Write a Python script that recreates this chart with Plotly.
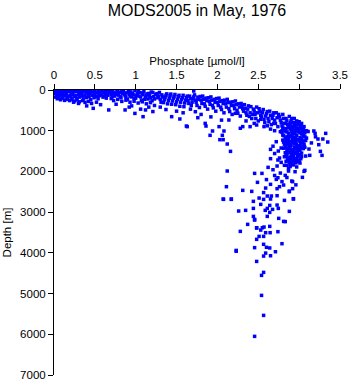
import plotly.graph_objects as go

# ---- data: [phosphate (umol/l), depth (m)] ----
surface = [
    [0.00, 5], [0.02, 20], [0.04, 8], [0.05, 35], [0.07, 15], [0.09, 50], [0.10, 5], [0.12, 28],
    [0.14, 12], [0.15, 60], [0.17, 22], [0.19, 40], [0.20, 8], [0.22, 70], [0.24, 18], [0.25, 45],
    [0.27, 10], [0.29, 32], [0.30, 55], [0.32, 15], [0.34, 75], [0.35, 25], [0.37, 48], [0.39, 10],
    [0.40, 62], [0.42, 30], [0.44, 85], [0.45, 18], [0.47, 52], [0.49, 36], [0.50, 8], [0.52, 70],
    [0.54, 26], [0.55, 95], [0.57, 45], [0.59, 15], [0.61, 65], [0.63, 30], [0.65, 100],
    [0.01, 80], [0.03, 110], [0.05, 95], [0.06, 140], [0.08, 120], [0.10, 160], [0.11, 100],
    [0.13, 135], [0.15, 115], [0.16, 180], [0.18, 150], [0.20, 125], [0.21, 195], [0.23, 105],
    [0.25, 165], [0.26, 140], [0.28, 210], [0.30, 120], [0.31, 175], [0.33, 100], [0.35, 150],
    [0.36, 220], [0.38, 130], [0.40, 185], [0.42, 110], [0.43, 160], [0.45, 240], [0.47, 135],
    [0.49, 190], [0.50, 115], [0.52, 165], [0.54, 215], [0.56, 140], [0.58, 120], [0.60, 175],
    [0.62, 150], [0.64, 200],
    [0.02, 175], [0.04, 215], [0.06, 190], [0.08, 240], [0.11, 205], [0.13, 255], [0.16, 225],
    [0.19, 260], [0.22, 235], [0.25, 270], [0.28, 245], [0.31, 290], [0.35, 260], [0.38, 305],
    [0.42, 280], [0.46, 330], [0.52, 300], [0.57, 360], [0.40, 390], [0.48, 450], [0.30, 330],
    [0.24, 300],
]

band_low = [
    [0.66, 20], [0.68, 60], [0.70, 110], [0.72, 35], [0.74, 150], [0.75, 80], [0.77, 10],
    [0.79, 125], [0.80, 55], [0.82, 190], [0.84, 90], [0.85, 30], [0.87, 140], [0.89, 70],
    [0.90, 225], [0.92, 105], [0.94, 45], [0.95, 170], [0.97, 120], [0.99, 15], [1.00, 200],
    [1.02, 85], [1.04, 150], [1.05, 60], [1.07, 250], [1.09, 115], [1.10, 30], [1.12, 180],
    [1.14, 95], [1.15, 220], [1.17, 140], [1.19, 50], [1.20, 265], [1.22, 165], [1.24, 110],
    [0.70, 210], [0.73, 260], [0.78, 230], [0.83, 280], [0.88, 250], [0.93, 300], [0.98, 275],
    [1.03, 320], [1.08, 290], [1.13, 340], [1.18, 310], [1.23, 380],
    [0.67, 490], [0.76, 350], [0.87, 490], [0.92, 420], [0.99, 575], [1.06, 470], [1.12, 490],
    [1.16, 420], [1.21, 530], [1.09, 655], [0.95, 390],
    [0.63, 90], [0.66, 130], [0.69, 15], [0.71, 170], [0.73, 75], [0.76, 115], [0.78, 40],
    [0.81, 160], [0.83, 20], [0.86, 105], [0.88, 180], [0.91, 40], [0.93, 150], [0.96, 80],
    [0.98, 210], [1.01, 130], [1.03, 25], [1.06, 170], [1.08, 75], [1.11, 230], [1.13, 125],
    [1.16, 85], [1.18, 190], [1.21, 60], [1.23, 220],
]

band_mid = [
    [1.26, 90], [1.28, 150], [1.30, 230], [1.32, 120], [1.34, 310], [1.36, 180], [1.38, 95],
    [1.40, 260], [1.42, 140], [1.44, 350], [1.46, 200], [1.48, 110], [1.50, 290], [1.52, 165],
    [1.54, 400], [1.56, 230], [1.58, 130], [1.60, 320], [1.62, 190], [1.64, 260], [1.66, 150],
    [1.68, 380], [1.70, 220], [1.72, 120], [1.74, 300], [1.76, 175], [1.78, 430], [1.80, 250],
    [1.82, 150], [1.84, 340], [1.86, 200], [1.88, 470], [1.90, 280], [1.92, 170], [1.94, 380],
    [1.96, 230], [1.98, 520], [2.00, 310], [2.02, 200], [2.04, 420], [2.06, 260], [2.08, 560],
    [2.10, 340], [2.12, 230], [2.14, 460], [2.16, 300], [2.18, 600], [2.20, 380], [2.22, 270],
    [2.24, 500], [2.26, 340], [2.28, 640],
    [1.30, 420], [1.37, 480], [1.44, 655], [1.50, 520], [1.58, 560], [1.63, 900], [1.71, 25],
    [1.73, 533], [1.54, 712], [1.80, 600], [1.85, 820], [1.92, 660], [1.94, 1007], [2.02, 900],
    [2.05, 740], [2.14, 737], [2.22, 573], [1.67, 470], [1.76, 680],
    [1.27, 190], [1.29, 60], [1.31, 300], [1.33, 170], [1.35, 240], [1.37, 130], [1.39, 340],
    [1.41, 200], [1.43, 100], [1.45, 270], [1.47, 160], [1.49, 360], [1.51, 230], [1.53, 130],
    [1.55, 300], [1.57, 190], [1.59, 410], [1.61, 250], [1.63, 150], [1.65, 330], [1.67, 210],
    [1.69, 300], [1.71, 170], [1.73, 250], [1.75, 380], [1.77, 230], [1.79, 160], [1.81, 330],
    [1.83, 230], [1.85, 400], [1.87, 260], [1.89, 190], [1.91, 350], [1.93, 250], [1.95, 440],
    [1.97, 300], [1.99, 210], [2.01, 380], [2.03, 280], [2.05, 480], [2.07, 330], [2.09, 250],
    [2.11, 420], [2.13, 310], [2.15, 530], [2.17, 380], [2.19, 290], [2.21, 460], [2.23, 360],
    [2.25, 570], [2.27, 420], [2.29, 330],
]

band_high = [
    [2.30, 400], [2.32, 520], [2.34, 450], [2.36, 620], [2.38, 390], [2.40, 560], [2.42, 700],
    [2.44, 470], [2.46, 600], [2.48, 420], [2.50, 760], [2.52, 530], [2.54, 650], [2.56, 480],
    [2.58, 800], [2.60, 580], [2.62, 700], [2.64, 520], [2.66, 850], [2.68, 620], [2.70, 740],
    [2.72, 560], [2.74, 900], [2.76, 660], [2.78, 800], [2.80, 600], [2.82, 950], [2.84, 700],
    [2.86, 850], [2.88, 650], [2.90, 760], [2.92, 900], [2.94, 700], [2.96, 820], [2.98, 950],
    [3.00, 780], [3.02, 880],
    [2.31, 900], [2.40, 900], [2.48, 860], [2.57, 900], [2.65, 960], [2.70, 1000], [2.77, 1024],
    [2.35, 760], [2.45, 820], [2.53, 720], [2.61, 880], [2.69, 820], [2.28, 940],
    [2.31, 460], [2.33, 360], [2.35, 560], [2.37, 470], [2.39, 650], [2.41, 410], [2.43, 600],
    [2.45, 520], [2.47, 700], [2.49, 560], [2.51, 460], [2.53, 620], [2.55, 560], [2.57, 720],
    [2.59, 640], [2.61, 530], [2.63, 780], [2.65, 620], [2.67, 700], [2.69, 560], [2.71, 820],
    [2.73, 680], [2.75, 600], [2.77, 740], [2.79, 880], [2.81, 700], [2.83, 820], [2.85, 760],
    [2.87, 920], [2.89, 820], [2.91, 700], [2.93, 800], [2.95, 880], [2.97, 760], [2.99, 860],
    [3.01, 940], [3.03, 820], [3.05, 960],
]

core = [
    [2.82, 820], [2.86, 850], [2.90, 800], [2.94, 870], [2.98, 830], [3.02, 860], [3.06, 900],
    [2.80, 920], [2.84, 950], [2.88, 900], [2.92, 960], [2.96, 920], [3.00, 980], [3.04, 940],
    [3.08, 1000], [2.79, 1040], [2.83, 1010], [2.87, 1060], [2.91, 1020], [2.95, 1070],
    [2.99, 1030], [3.03, 1080], [3.07, 1050], [3.11, 1020], [2.81, 1120], [2.85, 1150],
    [2.89, 1110], [2.93, 1160], [2.97, 1120], [3.01, 1170], [3.05, 1130], [3.09, 1180],
    [2.80, 1230], [2.84, 1210], [2.88, 1260], [2.92, 1220], [2.96, 1270], [3.00, 1230],
    [3.04, 1280], [3.08, 1240], [2.82, 1330], [2.86, 1310], [2.90, 1360], [2.94, 1320],
    [2.98, 1370], [3.02, 1330], [3.06, 1380], [2.81, 1430], [2.85, 1460], [2.89, 1420],
    [2.93, 1470], [2.97, 1430], [3.01, 1480], [3.05, 1440], [2.83, 1540], [2.87, 1520],
    [2.91, 1570], [2.95, 1530], [2.99, 1580], [3.03, 1550], [2.82, 1640], [2.86, 1670],
    [2.90, 1630], [2.94, 1680], [2.98, 1640], [3.02, 1690], [2.84, 1750], [2.88, 1780],
    [2.92, 1740], [2.96, 1790], [3.00, 1760], [2.85, 1850], [2.89, 1880], [2.93, 1840],
    [2.97, 1890], [2.87, 1140], [2.95, 1000], [2.91, 1290], [2.99, 1420], [2.84, 1590],
    [2.93, 1600], [3.01, 1260], [2.88, 1380], [2.96, 1200], [3.04, 1020], [2.92, 1080],
    [2.86, 1240], [2.98, 1520], [2.90, 1700], [2.94, 1400], [3.06, 1330], [2.83, 1290],
    [2.89, 1830],
    [2.81, 980], [2.85, 1030], [2.89, 960], [2.93, 1040], [2.97, 990], [3.01, 1050], [3.05, 1100],
    [2.83, 1180], [2.87, 1200], [2.91, 1150], [2.95, 1180], [2.99, 1220], [3.03, 1200],
    [3.07, 1150], [2.81, 1280], [2.85, 1350], [2.89, 1310], [2.93, 1260], [2.97, 1330],
    [3.01, 1380], [3.05, 1250], [2.83, 1400], [2.87, 1440], [2.91, 1480], [2.95, 1450],
    [2.99, 1470], [3.03, 1420], [2.85, 1560], [2.89, 1540], [2.93, 1520], [2.97, 1560],
    [3.01, 1600], [2.85, 1620], [2.89, 1660], [2.93, 1650], [2.97, 1700], [2.87, 1720],
    [2.91, 1800], [2.95, 1760], [2.99, 1730],
]

right_side = [
    [3.18, 1007], [3.23, 1204], [3.29, 1204], [3.325, 1065], [3.35, 1278], [3.26, 1507],
    [3.28, 1605], [3.13, 1605], [3.07, 1974], [3.04, 2145], [3.195, 1065], [3.24, 1343],
    [3.08, 1622], [3.07, 1408], [3.03, 1638], [2.98, 1753], [3.055, 1065], [3.09, 1000],
    [3.15, 1300], [3.12, 1450], [3.20, 1150],
]

left_mid = [
    [1.91, 1113], [2.06, 1113], [2.03, 1220], [2.07, 1220], [2.12, 1327], [2.16, 1507],
    [2.12, 1990], [2.11, 2375], [2.08, 1007], [1.86, 885], [1.62, 885],
]

mid_column = [
    [2.455, 2048], [2.545, 2048], [2.49, 2268], [2.565, 2520], [2.59, 2408], [2.65, 2317],
    [2.65, 2678], [2.73, 2424], [2.76, 2375], [2.72, 2195], [2.74, 2155], [2.81, 2334],
    [2.88, 2498], [2.92, 2424], [2.92, 2252], [2.83, 2097], [2.68, 1958], [2.77, 2040],
    [2.87, 1990], [2.95, 2007], [3.06, 1998], [2.73, 1867], [2.82, 1850], [2.87, 1933],
    [2.78, 1777], [2.91, 1826], [3.01, 1794], [2.65, 1687], [2.76, 1671], [2.86, 1671],
    [2.65, 1458], [2.745, 1499], [2.78, 1425], [2.72, 1270], [2.80, 1106], [2.79, 1000],
    [2.31, 2465], [2.42, 2490], [2.07, 2678], [2.17, 2678], [2.91, 2236], [2.93, 2670],
    [2.88, 2482], [2.70, 1560], [2.68, 1380], [2.74, 1720], [2.62, 1900], [2.70, 2100],
    [2.79, 2250], [2.85, 2150], [2.96, 2330], [2.60, 2200],
]

deep = [
    [2.075, 2686], [2.17, 2686], [2.44, 2735], [2.51, 2654], [2.565, 2686], [2.61, 2604],
    [2.66, 2604], [2.73, 2596], [2.82, 2711], [2.93, 2678], [2.44, 2908], [2.53, 2809],
    [2.64, 2834], [2.73, 2826], [2.61, 2908], [2.585, 2956], [2.675, 2932], [2.745, 2908],
    [2.26, 2973], [2.345, 2956], [2.88, 2981], [2.64, 3006], [2.44, 3104], [2.61, 3104],
    [2.455, 3178], [2.75, 3153], [2.81, 3227], [2.37, 3300], [2.64, 3350], [2.55, 3383],
    [2.48, 3390], [2.53, 3440], [2.28, 3472], [2.59, 3505], [2.645, 3505], [2.74, 3480],
    [2.51, 3595], [2.565, 3595], [2.48, 3668], [2.79, 3775], [2.565, 3790], [2.60, 3864],
    [2.64, 3880], [2.455, 3872], [2.23, 3940], [2.23, 3960], [2.71, 3972], [2.59, 4006],
    [2.565, 4079], [2.65, 4071], [2.48, 4210], [2.54, 4553], [2.565, 4480], [2.54, 5045],
    [2.565, 5536], [2.455, 6051], [2.83, 3233], [2.455, 3195], [2.57, 3366], [2.48, 3383],
]

x_ticks = [0, 0.5, 1, 1.5, 2, 2.5, 3, 3.5]
x_tick_labels = ["0", "0.5", "1", "1.5", "2", "2.5", "3", "3.5"]
y_ticks = [0, 1000, 2000, 3000, 4000, 5000, 6000, 7000]
y_tick_labels = ["0", "1000", "2000", "3000", "4000", "5000", "6000", "7000"]

regions = [surface, band_low, band_mid, band_high, core, right_side, left_mid, mid_column, deep]
phos = [p[0] for r in regions for p in r]
depth = [p[1] for r in regions for p in r]

fig = go.Figure()
fig.add_trace(go.Scatter(
    x=phos, y=depth, mode="markers",
    marker=dict(symbol="square", size=3.5, color="#0000FF", line=dict(width=0)),
    hoverinfo="skip",
))

font_family = "Liberation Sans, Arial, sans-serif"
fig.update_layout(
    width=350, height=384,
    margin=dict(l=54, r=10, t=90, b=9),
    paper_bgcolor="white", plot_bgcolor="white",
    showlegend=False,
    font=dict(family=font_family, size=11.5, color="black"),
    title=dict(text="MODS2005 in May, 1976", x=0.5, xref="paper", xanchor="center",
               y=1 - 10 / 384, yref="container", yanchor="middle",
               font=dict(size=16, color="black")),
)
fig.update_xaxes(
    range=[0, 3.5], side="top", tickvals=x_ticks, ticktext=x_tick_labels,
    ticks="outside", ticklen=5, tickwidth=1, tickcolor="black",
    showline=True, linecolor="black", linewidth=1, showgrid=False, zeroline=False,
    automargin=False,
    title=dict(text="Phosphate [µmol/l]", standoff=1, font=dict(size=11.5)),
)
fig.update_yaxes(
    range=[7000, 0], tickvals=y_ticks, ticktext=y_tick_labels,
    ticks="outside", ticklen=5, tickwidth=1, tickcolor="black",
    showline=True, linecolor="black", linewidth=1, showgrid=False, zeroline=False,
    automargin=False,
    title=dict(text="Depth [m]", standoff=6, font=dict(size=11.5)),
)

fig.write_html("out.html")
